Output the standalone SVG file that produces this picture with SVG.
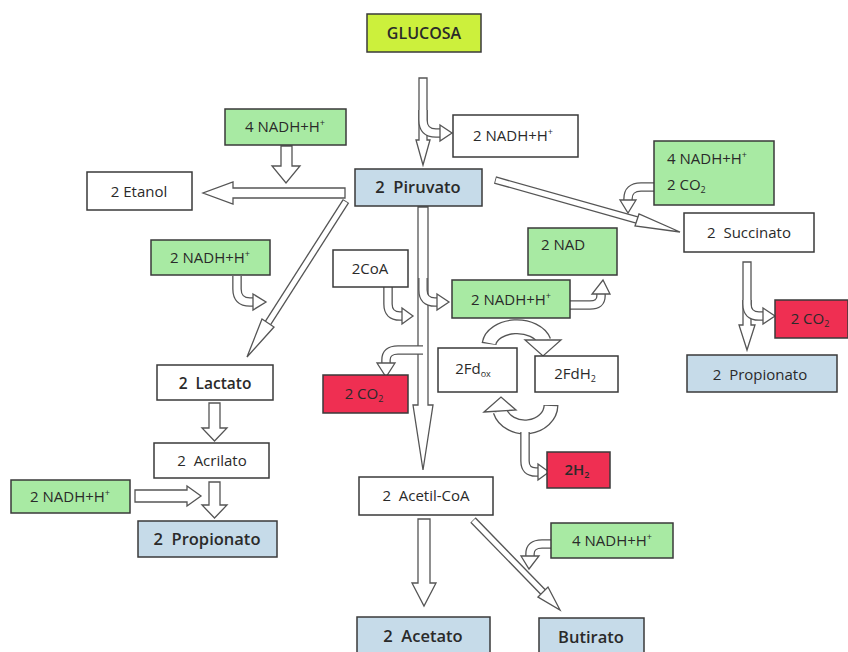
<svg xmlns="http://www.w3.org/2000/svg" width="848" height="652" viewBox="0 0 848 652">
<style>
.box{stroke:#3a3a3a;stroke-width:1.5}
.w{fill:#fff}.g{fill:#a8eaa3}.b{fill:#c6dbe9}.r{fill:#ef2f52}.y{fill:#ccf03c}
text{font-family:"Open Sans","Liberation Sans",sans-serif;font-size:15px;fill:#2a2a2a;text-anchor:middle;white-space:pre}
.bd{font-weight:600;font-size:16.5px}
.blk{fill:#fff;stroke:#555;stroke-width:1.3;stroke-linejoin:miter}
.o{fill:none;stroke:#555;stroke-width:9.6}
.i{fill:none;stroke:#fff;stroke-width:7}
.o2{fill:none;stroke:#555;stroke-width:15}
.i2{fill:none;stroke:#fff;stroke-width:12.4;stroke-dasharray:0 1.5 300}
.od{fill:none;stroke:#555;stroke-width:7.6}
.id{fill:none;stroke:#fff;stroke-width:5;stroke-dasharray:0 0.6 300}
.sm{font-size:9px}
</style>
<rect width="848" height="652" fill="#fff"/>
<g id="connectors">
<!-- glucose -> piruvato -->
<path class="blk" d="M419 78 L427 78 L427 140 L430 140 L423 165 L416 140 L419 140 Z"/>
<path class="o" d="M423 110 L423 120 Q423 133 436 133 L441 133"/>
<path class="i" d="M423 110 L423 120 Q423 133 436 133 L441 133"/>
<polygon class="blk" points="440,125 452,133 440,141"/>
<!-- piruvato -> etanol -->
<path class="blk" d="M345 188 L345 198 L233 198 L233 204 L203 193 L233 182 L233 188 Z"/>
<!-- 4NADH down -->
<path class="blk" d="M281 146 L292 146 L292 166 L300 166 L286 183 L272 166 L281 166 Z"/>
<!-- piruvato -> lactato -->
<path class="od" d="M346 201 L268 323" pathLength="100"/>
<path class="id" d="M346 201 L268 323" pathLength="100"/>
<polygon class="blk" points="262,319 274,327 247,357"/>
<!-- 2NADH left curved -->
<path class="o" d="M237 276 L237 289 Q237 302 250 302 L254 302"/>
<path class="i" d="M237 276 L237 289 Q237 302 250 302 L254 302"/>
<polygon class="blk" points="253,294 266,302 253,310"/>
<!-- piruvato -> succinato -->
<path class="od" d="M495 180 L637 220" pathLength="100"/>
<path class="id" d="M495 180 L637 220" pathLength="100"/>
<polygon class="blk" points="635,226 639,214 680,232"/>
<!-- 4NADH 2CO2 curved -->
<path class="o" d="M654 187 L641 187 Q628 187 628 199 L628 201"/>
<path class="i" d="M654 187 L641 187 Q628 187 628 199 L628 201"/>
<polygon class="blk" points="620,200 636,200 628,213"/>
<!-- succinato -> propionato -->
<path class="blk" d="M743 262 L751 262 L751 325 L755 325 L747 350 L739 325 L743 325 Z"/>
<path class="o" d="M747 300 L747 304 Q747 316 759 316 L764 316"/>
<path class="i" d="M747 300 L747 304 Q747 316 759 316 L764 316"/>
<polygon class="blk" points="763,308 775,316 763,324"/>
<!-- piruvato -> acetil-CoA -->
<path class="blk" d="M418 207 L428 207 L428 405 L433 405 L423 470 L413 405 L418 405 Z"/>
<!-- CoA curved -->
<path class="o" d="M388 287 L388 304 Q388 316 400 316 L403 316"/>
<path class="i" d="M388 287 L388 304 Q388 316 400 316 L403 316"/>
<polygon class="blk" points="402,308 413,316 402,324"/>
<!-- shaft -> NADH -->
<path class="o" d="M423 278 L423 290 Q423 302 435 302 L438 302"/>
<path class="i" d="M423 278 L423 290 Q423 302 435 302 L438 302"/>
<polygon class="blk" points="437,294 449,302 437,310"/>
<!-- shaft -> CO2 -->
<path class="o" d="M423 350 L398 350 Q386 350 386 360 L386 364"/>
<path class="i" d="M423 350 L398 350 Q386 350 386 360 L386 364"/>
<polygon class="blk" points="377,363 395,363 386,377"/>
<!-- NADH -> NAD -->
<path class="o" d="M570 305 L590 305 Q601 305 601 296 L601 293"/>
<path class="i" d="M570 305 L590 305 Q601 305 601 296 L601 293"/>
<polygon class="blk" points="592,294 610,294 603,280"/>
<!-- arc NADH -> FdH2 -->
<path class="o2" d="M489 344 A28 19 0 0 1 544 341" pathLength="100"/>
<path class="i2" d="M489 344 A28 19 0 0 1 544 341" pathLength="100"/>
<polygon class="blk" points="525,340 561,340 543,356"/>
<!-- lower arc FdH2 -> Fd ox -->
<path class="o2" d="M551 405 A26 22 0 0 1 500 411" pathLength="100"/>
<path class="i2" d="M551 405 A26 22 0 0 1 500 411" pathLength="100"/>
<polygon class="blk" points="484,412 516,410 501,397"/>
<!-- stem -> 2H2 -->
<path class="o" d="M525 432 L525 461 Q525 472 536 472 L539 472"/>
<path class="i" d="M525 430 L525 461 Q525 472 536 472 L539 472"/>
<polygon class="blk" points="538,464 549,472 538,480"/>
<!-- lactato -> acrilato -->
<path class="blk" d="M209 403 L220 403 L220 428 L227 428 L214.5 441 L202 428 L209 428 Z"/>
<!-- acrilato -> propionato -->
<path class="blk" d="M209 482 L220 482 L220 505 L227 505 L214.5 518 L202 505 L209 505 Z"/>
<!-- NADH -> right -->
<path class="blk" d="M135 490 L187 490 L187 486 L201 496 L187 506 L187 502 L135 502 Z"/>
<!-- acetil -> acetato -->
<path class="blk" d="M418 519 L430 519 L430 583 L436 583 L424 606 L412 583 L418 583 Z"/>
<!-- acetil -> butirato -->
<path class="od" d="M473 520 L543 592" pathLength="100"/>
<path class="id" d="M473 520 L543 592" pathLength="100"/>
<polygon class="blk" points="538,597 548,587 560,610"/>
<!-- 4NADH bottom curved -->
<path class="o" d="M551 544 L542 544 Q530 544 530 554 L530 557"/>
<path class="i" d="M551 544 L542 544 Q530 544 530 554 L530 557"/>
<polygon class="blk" points="521,556 539,556 529,569"/>
</g>
<g id="glucosa"><rect class="box y" x="367" y="14" width="114" height="38"/><text x="424" y="39" class="bd" style="font-size:16px">GLUCOSA</text></g>
<g id="nadh-top"><rect class="box w" x="453" y="115" width="125" height="42"/><text x="513" y="141">2 NADH+H<tspan class="sm" dy="-6">+</tspan></text></g>
<g id="piruvato"><rect class="box b" x="355" y="169" width="127" height="37"/><text x="418" y="193" class="bd">2  Piruvato</text></g>
<g id="nadh4-left"><rect class="box g" x="225" y="109" width="121" height="36"/><text x="285" y="132">4 NADH+H<tspan class="sm" dy="-6">+</tspan></text></g>
<g id="etanol"><rect class="box w" x="87" y="172" width="105" height="38"/><text x="139" y="197">2 Etanol</text></g>
<g id="nadh2-left"><rect class="box g" x="151" y="240" width="119" height="35"/><text x="210" y="263">2 NADH+H<tspan class="sm" dy="-6">+</tspan></text></g>
<g id="nadh4-co2"><rect class="box g" x="654" y="141" width="120" height="64"/><text x="667" y="164" style="text-anchor:start">4 NADH+H<tspan class="sm" dy="-6">+</tspan></text><text x="667" y="190" style="text-anchor:start">2 CO<tspan class="sm" dy="3">2</tspan></text></g>
<g id="succinato"><rect class="box w" x="684" y="213" width="130" height="39"/><text x="749" y="238">2  Succinato</text></g>
<g id="coa"><rect class="box w" x="333" y="250" width="75" height="37"/><text x="370" y="274">2CoA</text></g>
<g id="nad"><rect class="box g" x="528" y="228" width="89" height="47"/><text x="563" y="250">2 NAD</text></g>
<g id="nadh2-mid"><rect class="box g" x="452" y="280" width="118" height="38"/><text x="511" y="305">2 NADH+H<tspan class="sm" dy="-6">+</tspan></text></g>
<g id="co2-right"><rect class="box r" x="775" y="300" width="73" height="38"/><text x="810" y="324">2 CO<tspan class="sm" dy="3">2</tspan></text></g>
<g id="propionato-right"><rect class="box b" x="687" y="355" width="150" height="37"/><text x="760" y="380">2  Propionato</text></g>
<g id="lactato"><rect class="box w" x="157" y="365" width="116" height="35"/><text x="215" y="389" class="bd" style="font-size:15.5px">2  Lactato</text></g>
<g id="co2-mid"><rect class="box r" x="323" y="375" width="85" height="38"/><text x="364" y="399">2 CO<tspan class="sm" dy="3">2</tspan></text></g>
<g id="fdox"><rect class="box w" x="438" y="348" width="79" height="44"/><text x="473" y="374">2Fd<tspan class="sm" dy="3">ox</tspan></text></g>
<g id="fdh2"><rect class="box w" x="535" y="356" width="83" height="36"/><text x="575" y="379">2FdH<tspan class="sm" dy="3">2</tspan></text></g>
<g id="acrilato"><rect class="box w" x="154" y="443" width="115" height="35"/><text x="212" y="466">2  Acrilato</text></g>
<g id="nadh2-bl"><rect class="box g" x="11" y="480" width="119" height="33"/><text x="70" y="502">2 NADH+H<tspan class="sm" dy="-6">+</tspan></text></g>
<g id="propionato-left"><rect class="box b" x="138" y="521" width="139" height="36"/><text x="207" y="545" class="bd">2  Propionato</text></g>
<g id="h2"><rect class="box r" x="547" y="452" width="63" height="36"/><text x="577" y="475" class="bd" style="font-size:15px">2H<tspan class="sm" dy="3">2</tspan></text></g>
<g id="acetilcoa"><rect class="box w" x="359" y="477" width="134" height="38"/><text x="426" y="501">2  Acetil-CoA</text></g>
<g id="nadh4-bottom"><rect class="box g" x="551" y="523" width="122" height="35"/><text x="612" y="546">4 NADH+H<tspan class="sm" dy="-6">+</tspan></text></g>
<g id="acetato"><rect class="box b" x="357" y="617" width="133" height="40"/><text x="423" y="642" class="bd">2  Acetato</text></g>
<g id="butirato"><rect class="box b" x="539" y="618" width="105" height="39"/><text x="591" y="643" class="bd">Butirato</text></g>
</svg>
